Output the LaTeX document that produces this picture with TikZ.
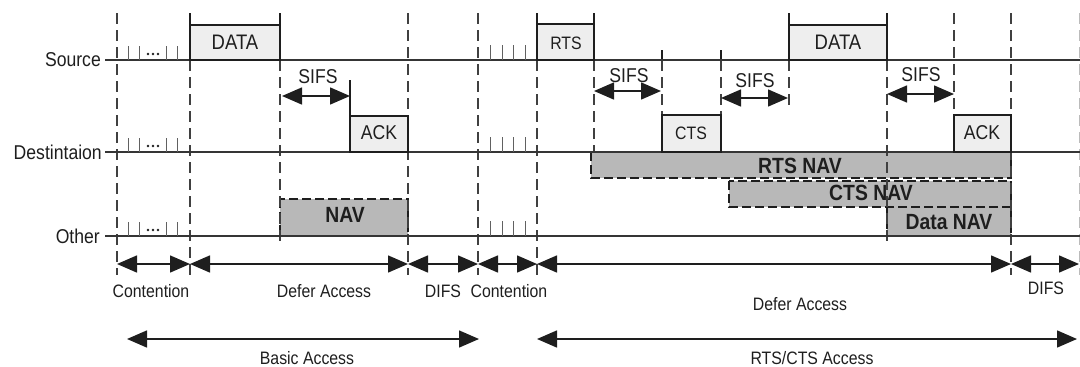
\documentclass[tikz,border=0pt]{standalone}
\usepackage{fontspec}
\setmainfont[FakeStretch=0.88]{Liberation Sans}
\usetikzlibrary{arrows.meta}
\definecolor{ink}{HTML}{1E1E1E}
\definecolor{boxfill}{HTML}{EEEEEE}
\definecolor{navfill}{HTML}{B8B8B8}
\tikzset{
  tl/.style={line width=2pt, draw=ink!90},
  dsh/.style={line width=1.4pt, draw=ink!85, dash pattern=on 11pt off 6pt},
  edge/.style={line width=1.5pt, draw=ink},
  frame/.style={line width=1.5pt, draw=ink, fill=boxfill},
  navbox/.style={line width=1.5pt, draw=ink, fill=navfill, dash pattern=on 9pt off 4pt},
  tick/.style={line width=1pt, draw=ink!70},
  arr/.style={line width=1.5pt, draw=ink, {Triangle[length=20pt,width=17pt]}-{Triangle[length=20pt,width=17pt]}},
  rowlab/.style={font=\fontsize{20}{22}\selectfont, text=ink, inner sep=0pt},
  boxlab/.style={font=\fontsize{20}{22}\selectfont, text=ink, inner sep=0pt},
  smlab/.style={font=\fontsize{18}{20}\selectfont, text=ink, inner sep=0pt},
  navlab/.style={font=\fontsize{22}{24}\selectfont\bfseries, text=ink, inner sep=0pt},
  botlab/.style={font=\fontsize{18}{20}\selectfont, text=ink, inner sep=0pt}
}
\begin{document}
\begin{tikzpicture}[x=1pt,y=-1pt]
\useasboundingbox (0,0) rectangle (1080,367);
% NAV fills
\draw[navbox] (280,199) rectangle (408,236);
\draw[navbox] (591,152) rectangle (1011,178);
\draw[navbox] (729,181) rectangle (1011,207);
\draw[navbox] (887,207) rectangle (1011,236);
% dashed verticals
\foreach \x/\a/\b in {117/13/275, 190/60/275, 280/60/245, 408/13/275, 478/13/275, 537/60/275,
  594/60/152, 662/60/115, 721/60/115, 789/60/108, 887/60/245, 954/13/115, 1011/13/275}
  {\draw[dsh] (\x,\a) -- (\x,\b);}
\draw[dsh, draw=ink!30, line width=1pt] (1079,13) -- (1079,275);
% solid edges above lines
\foreach \x/\a/\b in {190/13/60, 280/13/60, 537/13/60, 594/13/60, 789/13/60, 887/13/60,
  662/50/60, 721/50/60, 350/80/116}
  {\draw[edge] (\x,\a) -- (\x,\b);}
% timelines
\coordinate (srcA) at (105,60);  \coordinate (srcB) at (1080,60);
\coordinate (dstA) at (105,152); \coordinate (dstB) at (1080,152);
\coordinate (othA) at (105,236); \coordinate (othB) at (1080,236);
\draw[tl] (srcA) -- (srcB);
\draw[tl] (dstA) -- (dstB);
\draw[tl] (othA) -- (othB);
\node[rowlab, anchor=east] (lsrc) at (101,60) {Source};
\node[rowlab, anchor=east] (ldst) at (102,152) {Destintaion};
\node[rowlab, anchor=east] (loth) at (100,236) {Other};
% contention ticks
\foreach \y in {60,152,236}{
  \foreach \x in {128,139,166,177}{\draw[tick] (\x,\y) -- (\x,\y-14);}
  \foreach \x in {148,153,158}{\fill[ink] (\x,\y-6) circle (1.4pt);}
  \foreach \x in {490,502,513,525}{\draw[tick] (\x,\y) -- (\x,\y-15);}
}
% frames
\draw[frame] (190,25) rectangle (280,60);
\node[boxlab, font=\fontsize{21}{23}\selectfont] (data1) at (235,42) {DATA};
\draw[frame] (350,116) rectangle (408,152);
\node[boxlab] (ack1) at (379,133) {ACK};
\draw[frame] (537,24) rectangle (594,60);
\node[smlab] (rts) at (566,43) {RTS};
\draw[frame] (662,115) rectangle (721,152);
\node[smlab] (cts) at (691,133) {CTS};
\draw[frame] (789,25) rectangle (887,60);
\node[boxlab, font=\fontsize{21}{23}\selectfont] (data2) at (838,42) {DATA};
\draw[frame] (954,115) rectangle (1011,152);
\node[boxlab] (ack2) at (982,133) {ACK};
% NAV labels
\node[navlab] (nav) at (345,215) {NAV};
\node[navlab] (rtsnav) at (800,166) {RTS NAV};
\node[navlab] (ctsnav) at (871,193) {CTS NAV};
\node[navlab] (datanav) at (949,222) {Data NAV};
% SIFS
\coordinate (s1a) at (282,96); \coordinate (s1b) at (350,96);
\coordinate (s2a) at (594,91); \coordinate (s2b) at (661,91);
\coordinate (s3a) at (721,98); \coordinate (s3b) at (788,98);
\coordinate (s4a) at (887,94); \coordinate (s4b) at (954,94);
\draw[arr] (s1a) -- (s1b);
\draw[arr] (s2a) -- (s2b);
\draw[arr] (s3a) -- (s3b);
\draw[arr] (s4a) -- (s4b);
\node[boxlab] (sifs1) at (318,77) {SIFS};
\node[boxlab] (sifs2) at (629,76) {SIFS};
\node[boxlab] (sifs3) at (755,81) {SIFS};
\node[boxlab] (sifs4) at (921,75) {SIFS};
% bottom row arrows
\coordinate (b1) at (117,264); \coordinate (b2) at (190,264); \coordinate (b3) at (408,264);
\coordinate (b4) at (478,264); \coordinate (b5) at (537,264); \coordinate (b6) at (1011,264);
\coordinate (b7) at (1079,264);
\draw[arr] (b1) -- (b2);
\draw[arr] (b2) -- (b3);
\draw[arr] (b3) -- (b4);
\draw[arr] (b4) -- (b5);
\draw[arr] (b5) -- (b6);
\draw[arr] (b6) -- (b7);
\node[botlab] (c1) at (151,291) {Contention};
\node[botlab] (d1) at (324,291) {Defer Access};
\node[botlab] (f1) at (443,291) {DIFS};
\node[botlab] (c2) at (509,291) {Contention};
\node[botlab] (d2) at (800,304) {Defer Access};
\node[botlab] (f2) at (1046,288) {DIFS};
% access arrows
\coordinate (ba1) at (127,339); \coordinate (ba2) at (479,339);
\coordinate (ra1) at (537,339); \coordinate (ra2) at (1077,339);
\draw[arr] (ba1) -- (ba2);
\draw[arr] (ra1) -- (ra2);
\node[botlab] (basic) at (307,358) {Basic Access};
\node[botlab] (rtscts) at (812,358) {RTS/CTS Access};
\end{tikzpicture}
\end{document}
